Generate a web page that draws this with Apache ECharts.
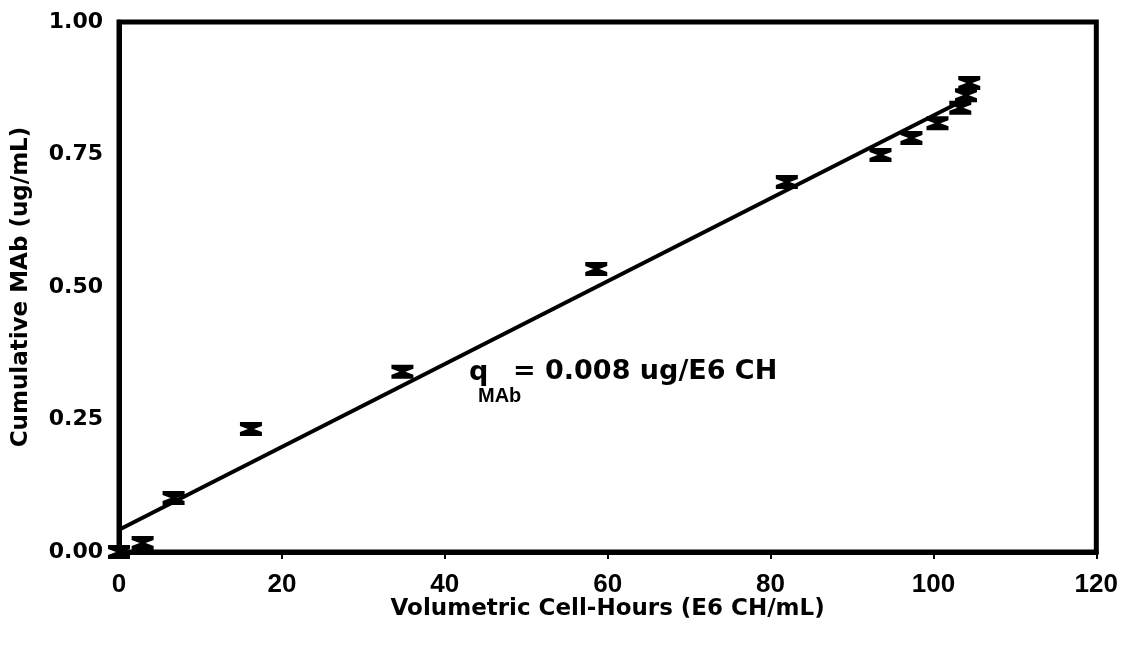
<!DOCTYPE html>
<html>
<head>
<meta charset="utf-8">
<script src="https://cdn.jsdelivr.net/npm/echarts@6/dist/echarts.min.js"></script>
<style>
  html, body { margin: 0; padding: 0; background: #fff; }
  #chart { width: 1121px; height: 646px; }
</style>
</head>
<body>
<div id="chart"></div>
<script>
// Measured cumulative antibody vs. volumetric cell-hours
const cellHours = [0, 2.9, 6.7, 16.2, 34.8, 58.6, 82.0, 93.5, 97.3, 100.5, 103.3, 104.0, 104.4];
const cumulativeMAb = [0.00, 0.017, 0.102, 0.232, 0.340, 0.534, 0.698, 0.749, 0.781, 0.809, 0.838, 0.862, 0.885];

// Linear fit through the data (slope ~0.008 ug per E6 cell-hours)
const fitX = [0, 103.5];
const fitY = [0.042, 0.851];

const xTicks = [0, 20, 40, 60, 80, 100, 120];
const yTicks = ['0.00', '0.25', '0.50', '0.75', '1.00'];

const points = cellHours.map((x, i) => [x, cumulativeMAb[i]]);
const fitLine = fitX.map((x, i) => [x, fitY[i]]);

// hourglass-shaped error-bar glyph
const hourglass = 'path://M0,0 L22,0 L22,4 L14,7 L22,10 L22,14 L0,14 L0,10 L8,7 L0,4 Z';

const chart = echarts.init(document.getElementById('chart'), null, { renderer: 'canvas' });
chart.setOption({
  animation: false,
  backgroundColor: '#ffffff',
  grid: {
    left: 119, right: 23, top: 22, bottom: 94,
    show: true, borderColor: '#000', borderWidth: 5, backgroundColor: 'transparent'
  },
  xAxis: {
    type: 'value',
    min: xTicks[0], max: xTicks[xTicks.length - 1], interval: 20,
    name: 'Volumetric Cell-Hours (E6 CH/mL)',
    nameLocation: 'middle', nameGap: 46, nameMoveOverlap: false,
    nameTextStyle: { fontFamily: 'DejaVu Sans', fontWeight: 'bold', fontSize: 23, color: '#000' },
    axisLine: { show: true, lineStyle: { color: '#000', width: 5 } },
    axisTick: { show: true, length: 7, lineStyle: { color: '#000', width: 2 } },
    splitLine: { show: false },
    axisLabel: {
      margin: 20, color: '#000', fontFamily: 'Liberation Sans', fontWeight: 'bold', fontSize: 26,
      formatter: v => String(v)
    }
  },
  yAxis: {
    type: 'value',
    min: 0, max: 1, interval: 0.25,
    name: 'Cumulative MAb (ug/mL)',
    nameLocation: 'middle', nameGap: 86, nameRotate: 90, nameMoveOverlap: false,
    nameTextStyle: { fontFamily: 'DejaVu Sans', fontWeight: 'bold', fontSize: 23, color: '#000' },
    axisLine: { show: true, lineStyle: { color: '#000', width: 5 } },
    axisTick: { show: false },
    splitLine: { show: false },
    axisLabel: {
      margin: 16, color: '#000', fontFamily: 'DejaVu Sans', fontWeight: 'bold', fontSize: 22,
      formatter: v => yTicks[Math.round(v / 0.25)]
    }
  },
  graphic: [
    {
      type: 'text', left: 469, top: 359, silent: true,
      style: { text: 'q', fontFamily: 'DejaVu Sans', fontWeight: 'bold', fontSize: 27, fill: '#000' }
    },
    {
      type: 'text', left: 478, top: 386, silent: true,
      style: { text: 'MAb', fontFamily: 'Liberation Sans', fontWeight: 'bold', fontSize: 20, fill: '#000' }
    },
    {
      type: 'text', left: 513, top: 358, silent: true,
      style: { text: '= 0.008 ug/E6 CH', fontFamily: 'DejaVu Sans', fontWeight: 'bold', fontSize: 27, fill: '#000' }
    }
  ],
  series: [
    {
      type: 'line',
      data: fitLine,
      showSymbol: false,
      lineStyle: { color: '#000', width: 4 },
      z: 2
    },
    {
      type: 'scatter',
      data: points,
      symbol: hourglass,
      symbolSize: [22, 14],
      itemStyle: { color: '#000', opacity: 1 },
      clip: false,
      z: 3
    }
  ]
});
</script>
</body>
</html>
